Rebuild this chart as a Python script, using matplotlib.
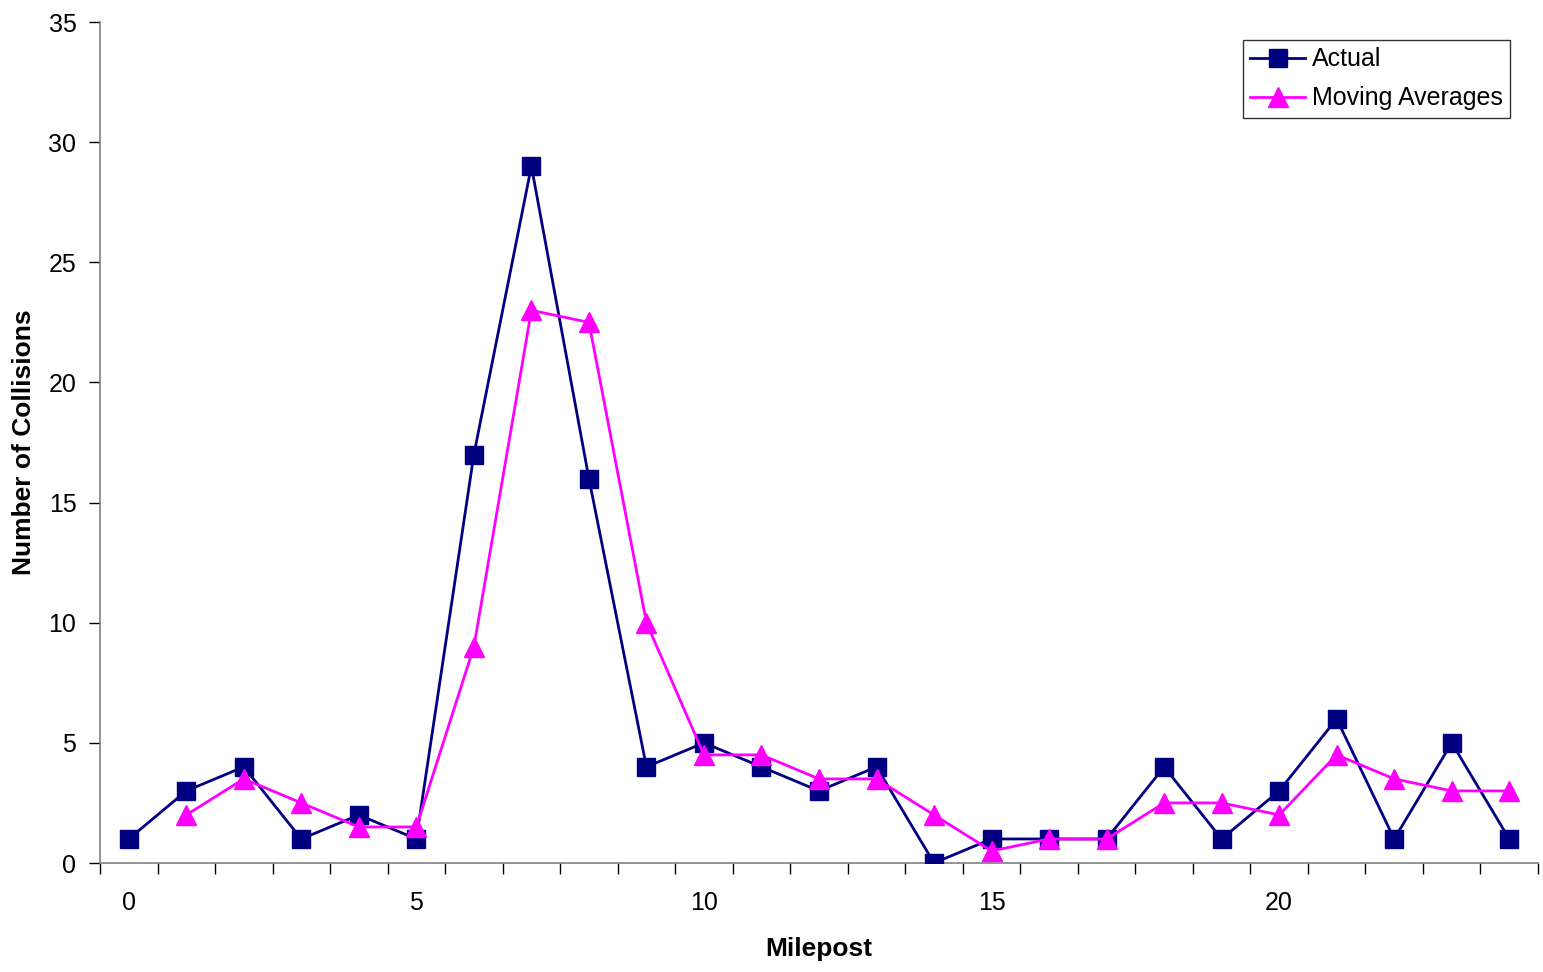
import matplotlib
matplotlib.use("Agg")
import matplotlib.pyplot as plt
from matplotlib.ticker import FixedLocator

plt.rcParams['font.family'] = ['Liberation Sans', 'DejaVu Sans']

mileposts = list(range(25))
actual = [1, 3, 4, 1, 2, 1, 17, 29, 16, 4, 5, 4, 3, 4, 0, 1, 1, 1, 4, 1, 3, 6, 1, 5, 1]
ma_x = list(range(1, 25))
moving_avg = [2, 3.5, 2.5, 1.5, 1.5, 9, 23, 22.5, 10, 4.5, 4.5, 3.5, 3.5, 2, 0.5, 1, 1,
              2.5, 2.5, 2, 4.5, 3.5, 3, 3]
x_ticks = [0, 5, 10, 15, 20]
y_ticks = [0, 5, 10, 15, 20, 25, 30, 35]

fig = plt.figure(figsize=(15.43, 9.72), dpi=100)
ax = fig.add_axes([100/1543, (972-863)/972, (1538-100)/1543, (863-22)/972])

ax.plot(mileposts, actual, color='#000080', lw=2, marker='s', ms=13.5,
        mec='#000080', mfc='#000080', label='Actual', zorder=3)
ax.plot(ma_x, moving_avg, color='#FF00FF', lw=2, marker='^', ms=14,
        mec='#FF00FF', mfc='#FF00FF', label='Moving Averages', zorder=4)

ax.set_xlim(-0.5, 24.5)
ax.set_ylim(0, 35)
ax.set_yticks(y_ticks)
ax.set_xticks(x_ticks)
ax.xaxis.set_minor_locator(FixedLocator([i + 0.5 for i in range(-1, 25)]))
ax.tick_params(axis='x', which='major', length=0, pad=20.5, labelsize=18)
ax.tick_params(axis='x', which='minor', length=8, width=1, color='black', direction='out')
ax.tick_params(axis='y', which='major', length=8, width=1, color='black', direction='out',
               labelsize=18, pad=9)

for s in ['top', 'right']:
    ax.spines[s].set_visible(False)
for s in ['left', 'bottom']:
    ax.spines[s].set_color('#808080')
    ax.spines[s].set_linewidth(1.2)

ax.set_xlabel('Milepost', fontsize=19, fontweight='bold', labelpad=15.5)
ax.set_ylabel('Number of Collisions', fontsize=19, fontweight='bold', labelpad=9)

leg = ax.legend(loc='upper right', bbox_to_anchor=(1510/1543, (972-40)/972),
                bbox_transform=fig.transFigure, fontsize=18, frameon=True,
                fancybox=False, shadow=False, borderpad=0.3, labelspacing=0.6,
                handlelength=2.2, handletextpad=0.25, borderaxespad=0)
leg.get_frame().set_edgecolor('black')
leg.get_frame().set_linewidth(1)

fig.savefig('out.png', dpi=100)
